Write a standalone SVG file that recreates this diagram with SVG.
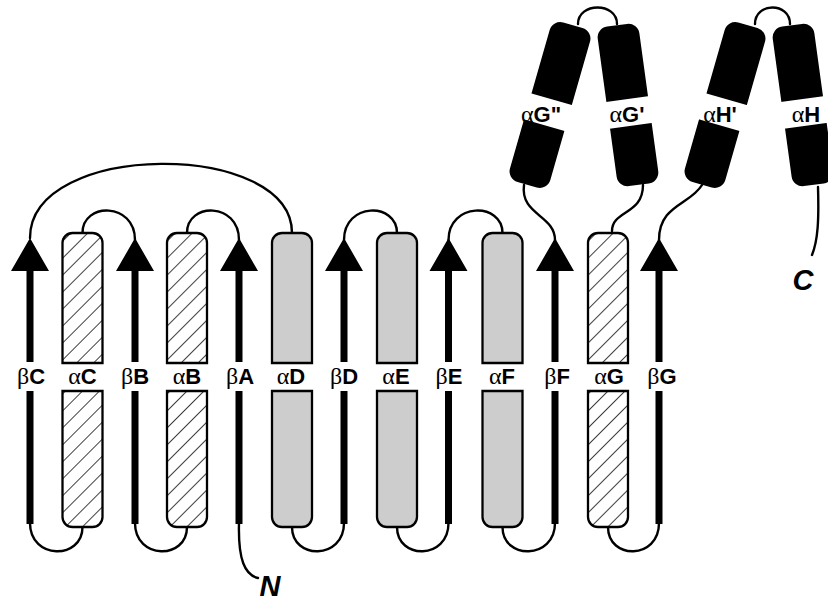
<svg xmlns="http://www.w3.org/2000/svg" width="828" height="602" viewBox="0 0 828 602">
<style>
.hx{stroke:#000;stroke-width:2.3;}
.hatch{fill:url(#hatch);}
.gray{fill:#cdcdcd;}
.st{fill:#000;}
.blk{fill:#000;}
.conn path{fill:none;stroke:#000;stroke-width:2.4;stroke-linecap:round;}
.lb{font-family:"Liberation Sans",Arial,sans-serif;font-weight:bold;font-size:22px;fill:#000;text-anchor:middle;}
.g{font-family:"Liberation Serif","Times New Roman",serif;font-weight:normal;font-size:24px;}
.term{font-family:"Liberation Sans",Arial,sans-serif;font-weight:bold;font-style:italic;font-size:29px;fill:#000;text-anchor:middle;}
</style>
<defs>
<pattern id="hatch" patternUnits="userSpaceOnUse" width="12" height="12" patternTransform="rotate(45)">
<rect x="0" y="0" width="12" height="12" fill="#fff"/>
<line x1="0" y1="0" x2="0" y2="12" stroke="#000" stroke-width="1.5"/>
</pattern>
<clipPath id="gap" clipPathUnits="userSpaceOnUse">
<rect x="0" y="0" width="828" height="99"/>
<rect x="0" y="126" width="828" height="100"/>
</clipPath>
<path id="arrowUp" d="M0,238 L19,271 L3.5,271 L3.5,362 L-3.5,362 L-3.5,271 L-19,271 Z"/>
<rect id="stemLow" x="-3.5" y="391" width="7" height="133"/>
<path id="helixTop" d="M-20,363 V243 A10,10 0 0 1 -10,233 H10 A10,10 0 0 1 20,243 V363 Z"/>
<path id="helixBot" d="M-20,391 V517 A10,10 0 0 0 -10,527 H10 A10,10 0 0 0 20,517 V391 Z"/>
</defs>
<rect width="828" height="602" fill="#fff"/>

<g id="connectors" class="conn">
<path d="M30,238 C30,140 292,140 292,233"/>
<path d="M82.5,233 C82.5,202 135,202 135,240"/>
<path d="M187,233 C187,202 239,202 239,240"/>
<path d="M344,240 C344,202 397,202 397,233"/>
<path d="M448.5,240 C448.5,202 502.5,202 502.5,233"/>
<path d="M30,523 C30,560 82.5,560 82.5,527"/>
<path d="M135,523 C135,560 187,560 187,527"/>
<path d="M292,527 C292,560 344,560 344,523"/>
<path d="M397,527 C397,560 448.5,560 448.5,523"/>
<path d="M502.5,527 C502.5,560 555,560 555,523"/>
<path d="M608,527 C608,560 659,560 659,523"/>
<path d="M239,523 C238,560 245,575 258,578"/>
<path d="M524,185 C520,215 555,215 555,240"/>
<path d="M643,185 C643,215 612,210 612,231"/>
<path d="M659,240 C659,205 690,205 702,185"/>
<path d="M818,187 C819,220 818,240 812,255"/>
<path d="M578,24 C578,2 617,2 617,24"/>
<path d="M755,24 C755,2 790,2 790,24"/>
</g>

<g id="bC"><use href="#arrowUp" x="30" class="st"/><use href="#stemLow" x="30" class="st"/><text class="lb" x="31" y="384"><tspan class="g">β</tspan>C</text></g>
<g id="aC"><use href="#helixTop" x="82.5" class="hx hatch"/><use href="#helixBot" x="82.5" class="hx hatch"/><text class="lb" x="82.5" y="384"><tspan class="g">α</tspan>C</text></g>
<g id="bB"><use href="#arrowUp" x="135" class="st"/><use href="#stemLow" x="135" class="st"/><text class="lb" x="135" y="384"><tspan class="g">β</tspan>B</text></g>
<g id="aB"><use href="#helixTop" x="187" class="hx hatch"/><use href="#helixBot" x="187" class="hx hatch"/><text class="lb" x="187" y="384"><tspan class="g">α</tspan>B</text></g>
<g id="bA"><use href="#arrowUp" x="239" class="st"/><use href="#stemLow" x="239" class="st"/><text class="lb" x="240" y="384"><tspan class="g">β</tspan>A</text></g>
<g id="aD"><use href="#helixTop" x="292" class="hx gray"/><use href="#helixBot" x="292" class="hx gray"/><text class="lb" x="291" y="384"><tspan class="g">α</tspan>D</text></g>
<g id="bD"><use href="#arrowUp" x="344" class="st"/><use href="#stemLow" x="344" class="st"/><text class="lb" x="344" y="384"><tspan class="g">β</tspan>D</text></g>
<g id="aE"><use href="#helixTop" x="397" class="hx gray"/><use href="#helixBot" x="397" class="hx gray"/><text class="lb" x="396" y="384"><tspan class="g">α</tspan>E</text></g>
<g id="bE"><use href="#arrowUp" x="448.5" class="st"/><use href="#stemLow" x="448.5" class="st"/><text class="lb" x="449" y="384"><tspan class="g">β</tspan>E</text></g>
<g id="aF"><use href="#helixTop" x="502.5" class="hx gray"/><use href="#helixBot" x="502.5" class="hx gray"/><text class="lb" x="502" y="384"><tspan class="g">α</tspan>F</text></g>
<g id="bF"><use href="#arrowUp" x="555" class="st"/><use href="#stemLow" x="555" class="st"/><text class="lb" x="557" y="384"><tspan class="g">β</tspan>F</text></g>
<g id="aG"><use href="#helixTop" x="608" class="hx hatch"/><use href="#helixBot" x="608" class="hx hatch"/><text class="lb" x="609" y="384"><tspan class="g">α</tspan>G</text></g>
<g id="bG"><use href="#arrowUp" x="659" class="st"/><use href="#stemLow" x="659" class="st"/><text class="lb" x="662" y="384"><tspan class="g">β</tspan>G</text></g>

<g id="aG2"><rect class="blk" clip-path="url(#gap)" x="529" y="22" width="42" height="166" rx="11" transform="rotate(16 550 105)"/><text class="lb" x="541" y="122"><tspan class="g">α</tspan>G"</text></g>
<g id="aG1"><rect class="blk" clip-path="url(#gap)" x="607" y="24.5" width="42" height="161" rx="11" transform="rotate(-7.8 628 105)"/><text class="lb" x="627" y="122"><tspan class="g">α</tspan>G'</text></g>
<g id="aH1"><rect class="blk" clip-path="url(#gap)" x="704" y="22" width="42" height="166" rx="11" transform="rotate(16 725 105)"/><text class="lb" x="720" y="122"><tspan class="g">α</tspan>H'</text></g>
<g id="aH"><rect class="blk" clip-path="url(#gap)" x="782" y="24.5" width="42" height="161" rx="11" transform="rotate(-7.8 803 105)"/><text class="lb" x="806" y="122"><tspan class="g">α</tspan>H</text></g>

<g id="N"><text class="term" x="270" y="596">N</text></g>
<g id="C"><text class="term" x="803" y="290">C</text></g>
</svg>
